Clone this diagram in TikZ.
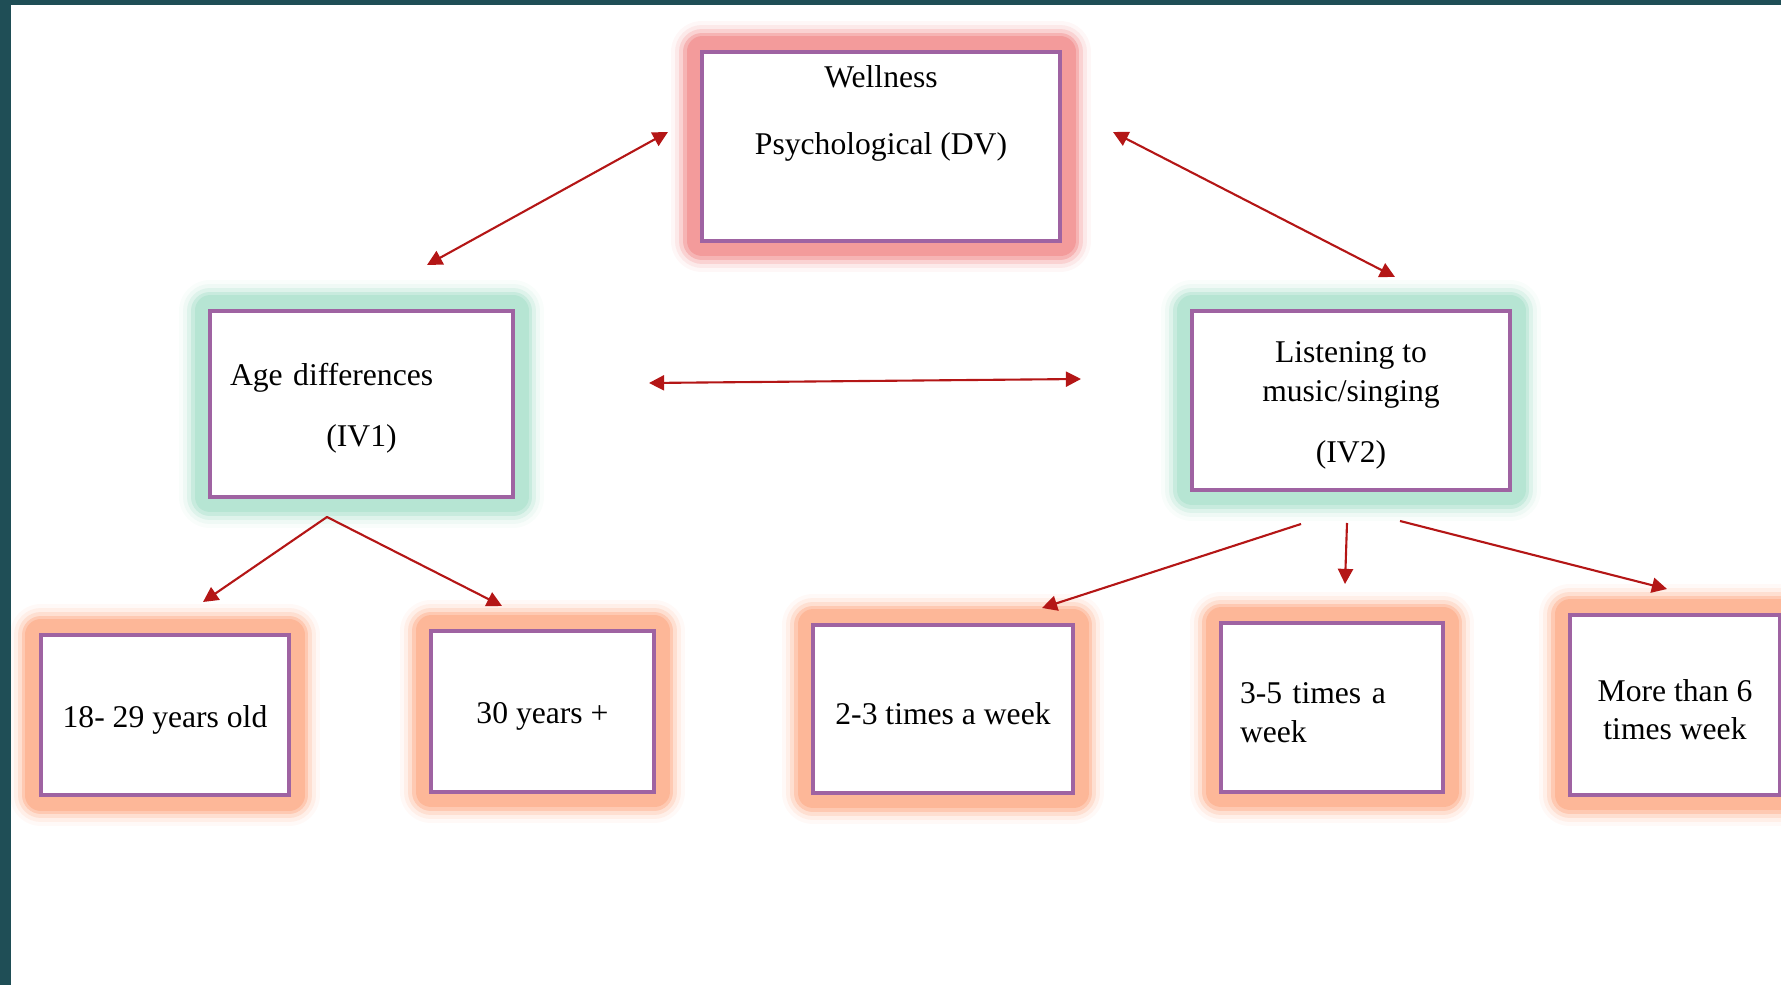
\documentclass[tikz,border=0pt]{standalone}
\usepackage{fontspec}
\setmainfont{Liberation Serif}
\usetikzlibrary{arrows.meta,positioning}

\definecolor{framegreen}{RGB}{31,78,86}
\definecolor{boxpurple}{RGB}{159,99,162}
\definecolor{arrowred}{RGB}{180,22,22}
\definecolor{glowpink}{RGB}{243,155,155}
\definecolor{glowgreen}{RGB}{182,229,211}
\definecolor{gloworange}{RGB}{253,183,152}
\newcommand{\lowline}{\rule{0pt}{0.31cm}}

\begin{document}
\begin{tikzpicture}[>={Triangle[length=4.3pt,width=4.3pt]},
    glow/.style={preaction={draw=#1!8, line width=0.62cm, line join=round},
                 preaction={draw=#1!22, line width=0.54cm, line join=round},
                 preaction={draw=#1!45, line width=0.46cm, line join=round},
                 preaction={draw=#1!75, line width=0.38cm, line join=round},
                 preaction={draw=#1, line width=0.31cm, line join=round}},
    wbox/.style={draw=boxpurple, line width=0.9pt, fill=white, inner sep=0pt, outer sep=0pt, font=\fontsize{9}{11}\selectfont},
    depvar/.style={wbox, glow=glowpink, align=center, minimum width=3.58cm, minimum height=1.89cm},
    indvar/.style={wbox, glow=glowgreen},
    category/.style={wbox, glow=gloworange},
    link/.style={draw=arrowred, line width=0.6pt, line join=round}]
    \useasboundingbox (0,0) rectangle (17.81,-9.85);
    % Nodes (dependent and independent variables)
    \node[depvar] (dv) at (8.81,-1.465) {Wellness\\[0.29cm]Psychological (DV)\\[0.23cm]\strut};
    \node[indvar, below=0.70cm of dv, xshift=-5.195cm, align=left, text width=2.63cm, minimum width=3.03cm, minimum height=1.86cm] (age) {\lowline Age differences\\[0.23cm]\makebox[\linewidth]{(IV1)}};
    \node[indvar, below=0.70cm of dv, xshift=4.70cm, align=center, minimum width=3.18cm, minimum height=1.79cm] (music) {\lowline Listening to\\music/singing\\[0.23cm](IV2)};
    % Age groups
    \node[category, below=1.38cm of age, xshift=-1.965cm, minimum width=2.48cm, minimum height=1.60cm] (young) {\lowline 18- 29 years old};
    \node[category, below=1.34cm of age, xshift=1.81cm, minimum width=2.23cm, minimum height=1.61cm] (older) {\lowline 30 years +};
    % Frequency groups
    \node[category, below=1.35cm of music, xshift=-4.08cm, minimum width=2.60cm, minimum height=1.68cm] (twothree) {\lowline 2-3 times a week};
    \node[category, below=1.33cm of music, xshift=-0.19cm, align=left, text width=1.84cm, minimum width=2.22cm, minimum height=1.69cm] (threefive) {\lowline 3-5 times a\\week};
    \node[category, below=1.25cm of music, xshift=3.24cm, align=center, minimum width=2.10cm, minimum height=1.80cm] (sixplus) {\lowline More than 6\\times week};
    \coordinate (agefork) at ([shift={(-0.345,-0.20)}]age.south);
    % Arrows
    \draw[link, <->] ([shift={(-0.34,0.145)}]dv.west) -- ([shift={(0.655,0.46)}]age.north);
    \draw[link, <->] ([shift={(0.53,0.145)}]dv.east) -- ([shift={(0.44,0.34)}]music.north);
    \draw[link, <->] ([shift={(1.36,0.21)}]age.east) -- ([shift={(-1.11,0.215)}]music.west);
    \draw[link, <->] ([shift={(0.38,0.33)}]young.north) -- (agefork) -- ([shift={(-0.405,0.25)}]older.north);
    \draw[link, ->] ([shift={(-0.50,-0.34)}]music.south) -- ([shift={(0.99,0.17)}]twothree.north);
    \draw[link, ->] ([shift={(-0.04,-0.33)}]music.south) -- ([shift={(0.13,0.39)}]threefive.north);
    \draw[link, ->] ([shift={(0.49,-0.31)}]music.south) -- ([shift={(-0.08,0.26)}]sixplus.north);
    % Slide frame
    \fill[framegreen] (0,0) rectangle (17.81,-0.05);
    \fill[framegreen] (0,0) rectangle (0.11,-9.85);
\end{tikzpicture}
\end{document}
